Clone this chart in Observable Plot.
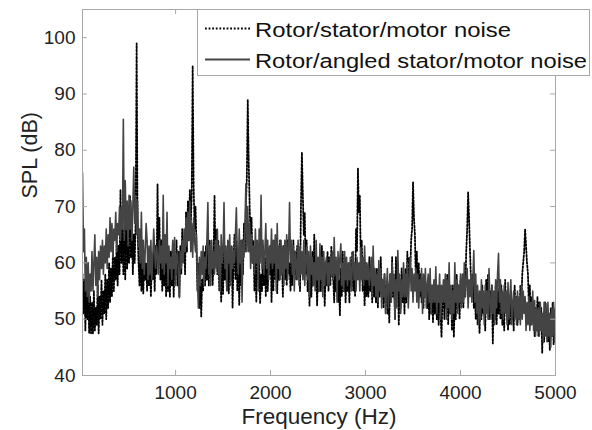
<!DOCTYPE html>
<html>
<head>
<meta charset="utf-8">
<script src="https://cdn.jsdelivr.net/npm/d3@7"></script>
<script src="https://cdn.jsdelivr.net/npm/@observablehq/plot@0.6"></script>
<style>
  html, body { margin: 0; padding: 0; background: #fff; }
  #chart { position: relative; width: 592px; height: 430px; }
</style>
</head>
<body>
<div id="chart"></div>
<script>
// Frequency bins (Hz): 10 Hz resolution starting at 20 Hz; each row below = 100 Hz
const freqStart = 20, freqStep = 10;

// Rotor/stator/motor noise (dB) — dotted black
const splStator = [
  58, 51, 57, 48, 56, 50, 55, 47.5, 54, 47.5,
  53, 47.5, 55, 48, 52, 49, 56, 47.5, 54, 50,
  57, 49, 55, 51, 58, 50, 57, 52, 60, 53,
  59, 54, 62, 55, 61, 57, 64, 56, 63, 58,
  73, 60, 69, 58, 66, 57, 70, 59, 68, 60,
  72, 61, 67, 58, 65, 60, 68, 99, 66, 60,
  56, 63, 55, 62, 54.5, 61, 57, 60, 55, 62,
  56, 61, 54, 60, 57, 62, 55, 63, 58, 74,
  60, 68, 57, 64, 55, 63, 56, 61, 54, 62,
  55, 60, 54, 62, 56, 63, 54, 61, 58, 64,
  56, 62, 54, 63, 58, 66, 60, 64, 58, 69,
  62, 71, 64, 73, 67, 72, 95, 74, 66, 70,
  63, 55, 60, 52, 58, 50.5, 57, 55, 62, 56,
  63, 57, 66, 56, 64, 58, 62, 56, 60, 72,
  61, 66, 58, 64, 55, 62, 53, 60, 54.5, 63,
  57, 62, 55, 60, 54.6, 61, 57, 63, 52, 60,
  65, 57, 64, 55, 62, 52.5, 60, 56, 64, 58,
  67, 62, 70, 75, 89, 78, 70, 64, 68, 60,
  64, 55, 61, 53, 62, 57, 60, 52.8, 58, 55,
  63, 56, 61, 54, 64, 55, 60, 58, 63, 53,
  61, 55, 64, 57, 60, 54.6, 62, 57, 64, 58,
  60, 54, 63, 57, 61, 56, 64, 58, 60, 55,
  61, 56, 64, 58, 62, 57, 63, 59, 62, 55,
  70, 79.6, 72, 65, 69, 58, 64, 55, 60, 52.4,
  60, 54, 62, 56, 65, 57, 61, 52.4, 59, 55,
  61, 55, 63, 58, 60, 52.4, 58, 56, 62, 55,
  61, 56, 63, 58, 57, 53, 60, 55, 59, 53,
  57, 50.7, 59, 54, 62, 55, 60, 53, 58, 55,
  58, 53, 60, 56, 62, 55, 59, 54, 66, 62,
  76.8, 69, 72, 60, 64, 55, 60, 52.4, 58, 54,
  58, 54, 61, 55, 59, 53, 60, 54, 57, 53,
  59, 52, 58, 54, 61, 55, 57, 52, 58, 53,
  56, 51, 55, 49.4, 58, 53, 61, 54, 57, 50,
  61, 55, 60, 48.9, 57, 52, 59, 53, 58, 51,
  59, 53, 62, 55, 61, 57, 64, 66, 74.3, 68,
  65, 56.3, 62, 55, 60, 54, 58, 53, 57, 52,
  57, 54, 56, 52, 57, 50, 55, 51, 56, 49.5,
  55, 51, 57, 50, 54, 49, 56, 51, 46.8, 54,
  55, 50, 57, 52, 58, 49, 56, 51, 55, 48,
  56, 46.8, 54, 50, 58, 52, 56, 50, 57, 53,
  55, 52, 58, 54, 62, 66, 72.5, 68, 62, 57,
  54, 58, 52, 56, 50, 55, 49, 54, 47.5, 53,
  50, 56, 51, 54, 48, 57, 52, 58, 50, 55,
  52, 56, 45.7, 54, 50, 56, 49, 55, 51, 57,
  50, 56, 49, 53, 48, 57, 51, 54, 48, 52,
  49, 55, 50, 53, 48, 56, 51, 54, 49, 53,
  50, 56, 52, 58, 60, 62, 66, 63, 60, 58,
  52, 56, 49, 54, 50, 53, 47, 52, 48, 54,
  47, 53, 48, 52, 44, 51, 46, 53, 47, 52,
  46, 51, 44.5, 52, 47, 53, 45.5, 50, 47, 52
];

// Rotor/angled stator/motor noise (dB) — solid gray
const splAngled = [
  76, 62, 66, 55, 61, 54, 60, 53, 58, 55,
  62, 55, 60, 65, 56, 61, 54, 62, 57, 63,
  59, 64, 58, 63, 60, 66, 59, 65, 61, 68,
  62, 67, 61, 66, 64, 69, 62, 67, 65, 70,
  64, 70, 66, 85.5, 64, 74.6, 66, 71, 63, 72,
  66, 71, 64, 70, 77, 67, 72, 65, 71, 63,
  66, 60, 69, 59, 64, 58, 62, 67, 64, 57,
  63, 58, 64, 57, 61, 66, 62, 59, 63, 61,
  58, 64, 60, 63, 59, 72, 58, 65, 60, 69,
  56, 63, 59, 61, 57, 64, 59, 64.5, 56, 61,
  62, 58, 53.8, 62, 59, 64, 60, 66, 62, 68,
  63, 69, 64, 71, 62, 67, 61, 68, 64, 62,
  65, 57, 52, 61, 56, 62, 58, 63, 56, 61,
  59, 64, 70.7, 58, 63, 56, 64, 59, 62, 58,
  64, 59, 66, 58, 63, 55, 65, 60, 62, 70.7,
  59, 63, 55, 64, 60, 65, 56, 63, 59, 62,
  60, 65, 69.8, 61, 58, 66, 60, 64, 53, 64,
  61, 66, 74, 62, 70, 62, 67, 59, 65, 60,
  63, 58, 66, 60, 64, 55, 66, 60, 72, 59,
  64, 58, 62, 67, 59, 64, 57, 63, 60, 66,
  59, 64, 60, 65, 55, 67, 59, 63, 57, 64,
  58, 63, 56, 64, 59, 65, 57, 62, 70.7, 60,
  64, 58, 63, 55, 62, 60, 57, 64, 56, 63,
  58, 62, 57, 64, 56, 61, 63, 57, 62, 54,
  63, 58, 61, 56, 60, 55, 64, 57, 61, 55,
  63.4, 57, 61, 54, 62, 56, 60, 61, 56, 60,
  56, 61, 58, 62, 57, 64.5, 58, 61, 53, 62,
  57, 61, 63.4, 56, 60, 55, 62, 57, 61, 56,
  60, 57, 61, 55, 59, 62, 57, 60, 55, 61,
  57, 60, 55, 62.7, 57, 61, 56, 63, 57, 60,
  57, 60, 56, 58, 61, 54, 63, 56, 59, 54,
  58, 53, 60.4, 55, 59, 52, 57, 54, 58, 51,
  55, 59, 52, 56, 58, 53, 60, 55, 58, 50,
  57, 52, 62.2, 55, 58, 51, 57, 54, 60, 54,
  58, 54, 60, 52, 57, 61, 55, 59, 53, 58,
  55, 59, 53, 58, 52, 57, 55, 59, 51, 58,
  54, 59, 52, 56, 58, 53, 59, 51, 56, 53,
  57, 53, 59.3, 51, 56, 53, 58, 50, 56, 53,
  57, 53, 58, 50, 57, 52, 60, 51, 56, 50,
  55, 51, 60, 53, 57, 51, 56, 53, 58, 52,
  58, 53, 60, 54, 57, 59, 52, 57, 54, 58,
  53, 57, 62.2, 53, 58, 51, 56, 49, 55, 50,
  57, 52, 55, 49, 56, 51, 55, 50, 59, 53,
  50, 56, 51, 55, 49, 57, 52, 58, 61.7, 53,
  57, 51, 55, 50, 56, 51, 55, 49, 56.5, 50,
  54, 57, 49, 53, 55, 50, 54, 49, 55, 50,
  54, 49, 56, 50, 55, 51, 54, 48, 53, 49,
  54, 48, 53, 49, 55, 48, 53.3, 47, 52, 48,
  52, 47, 53, 48, 51, 46, 53, 47, 52.8, 46,
  53, 47, 51, 45, 52, 47, 53, 46, 52, 47
];

const xTicks = [1000, 2000, 3000, 4000, 5000];
const yTicks = [40, 50, 60, 70, 80, 90, 100];
const seriesNames = ["Rotor/stator/motor noise", "Rotor/angled stator/motor noise"];
const xLabel = "Frequency (Hz)";
const yLabel = "SPL (dB)";

const xDomain = [20, 5000];
const yDomain = [40, 105];

const dataStator = splStator.map((v, i) => ({f: freqStart + i * freqStep, v}));
const dataAngled = splAngled.map((v, i) => ({f: freqStart + i * freqStep, v}));

const font = "'Liberation Sans', Arial, Helvetica, sans-serif";
const axisGray = "#a8a8a8";
const dotted = {stroke: "#000", strokeWidth: 1.8, strokeDasharray: "1.8,1.8"};
const solid = {stroke: "#444", strokeWidth: 1.6};

const chart = Plot.plot({
  width: 592,
  height: 430,
  marginLeft: 82,
  marginRight: 37,
  marginTop: 9,
  marginBottom: 55,
  style: {fontFamily: font, fontSize: "19px", color: "#222", background: "#fff"},
  x: {domain: xDomain, type: "linear", axis: null},
  y: {domain: yDomain, type: "linear", axis: null},
  marks: [
    Plot.line(dataStator, {x: "f", y: "v", clip: true, ...dotted}),
    Plot.line(dataAngled, {x: "f", y: "v", clip: true, ...solid}),
    Plot.frame({stroke: axisGray, strokeWidth: 1}),
    // inward ticks
    Plot.ruleX(xTicks.filter(t => t < 5000), {x: d => d, y1: 40, y2: 40.9, stroke: axisGray}),
    Plot.ruleX(xTicks.filter(t => t < 5000), {x: d => d, y1: 105, y2: 104.1, stroke: axisGray}),
    Plot.ruleY(yTicks.filter(t => t > 40), {y: d => d, x1: 20, x2: 72, stroke: axisGray}),
    Plot.ruleY(yTicks.filter(t => t > 40), {y: d => d, x1: 5000, x2: 4948, stroke: axisGray}),
    // tick labels
    Plot.text(xTicks, {x: d => d, frameAnchor: "bottom", dy: 10, lineAnchor: "top", text: d => String(d), fontSize: 19, fill: "#222"}),
    Plot.text(yTicks, {y: d => d, frameAnchor: "left", dx: -7, textAnchor: "end", text: d => String(d), fontSize: 19, fill: "#222"}),
    // axis titles
    Plot.text([xLabel], {frameAnchor: "bottom", dy: 33, lineAnchor: "top", fontSize: 22.5, fill: "#222"}),
    Plot.text([yLabel], {frameAnchor: "left", dx: -52, dy: 6, rotate: -90, fontSize: 21.5, fill: "#222"})
  ]
});

document.getElementById("chart").appendChild(chart);

// Legend inside the plot, top right (as in the original figure)
const svg = d3.select(chart);
const lg = svg.append("g").attr("font-family", font);
lg.append("rect").attr("x", 197.5).attr("y", 9.5).attr("width", 392).attr("height", 66)
  .attr("fill", "#fff").attr("stroke", axisGray);
const styles = [dotted, solid];
const rowY = [28.5, 59.5];
const textLen = [256, 332];
seriesNames.forEach((name, i) => {
  const y = rowY[i];
  lg.append("line").attr("x1", 205).attr("x2", 250).attr("y1", y).attr("y2", y)
    .attr("stroke", styles[i].stroke).attr("stroke-width", styles[i].strokeWidth + 0.2)
    .attr("stroke-dasharray", styles[i].strokeDasharray || null);
  lg.append("text").attr("x", 255).attr("y", y + 1).attr("dy", "0.35em")
    .attr("text-anchor", "start")
    .attr("font-size", 20.5).attr("fill", "#111")
    .attr("textLength", textLen[i]).attr("lengthAdjust", "spacingAndGlyphs")
    .text(name);
});
</script>
</body>
</html>
